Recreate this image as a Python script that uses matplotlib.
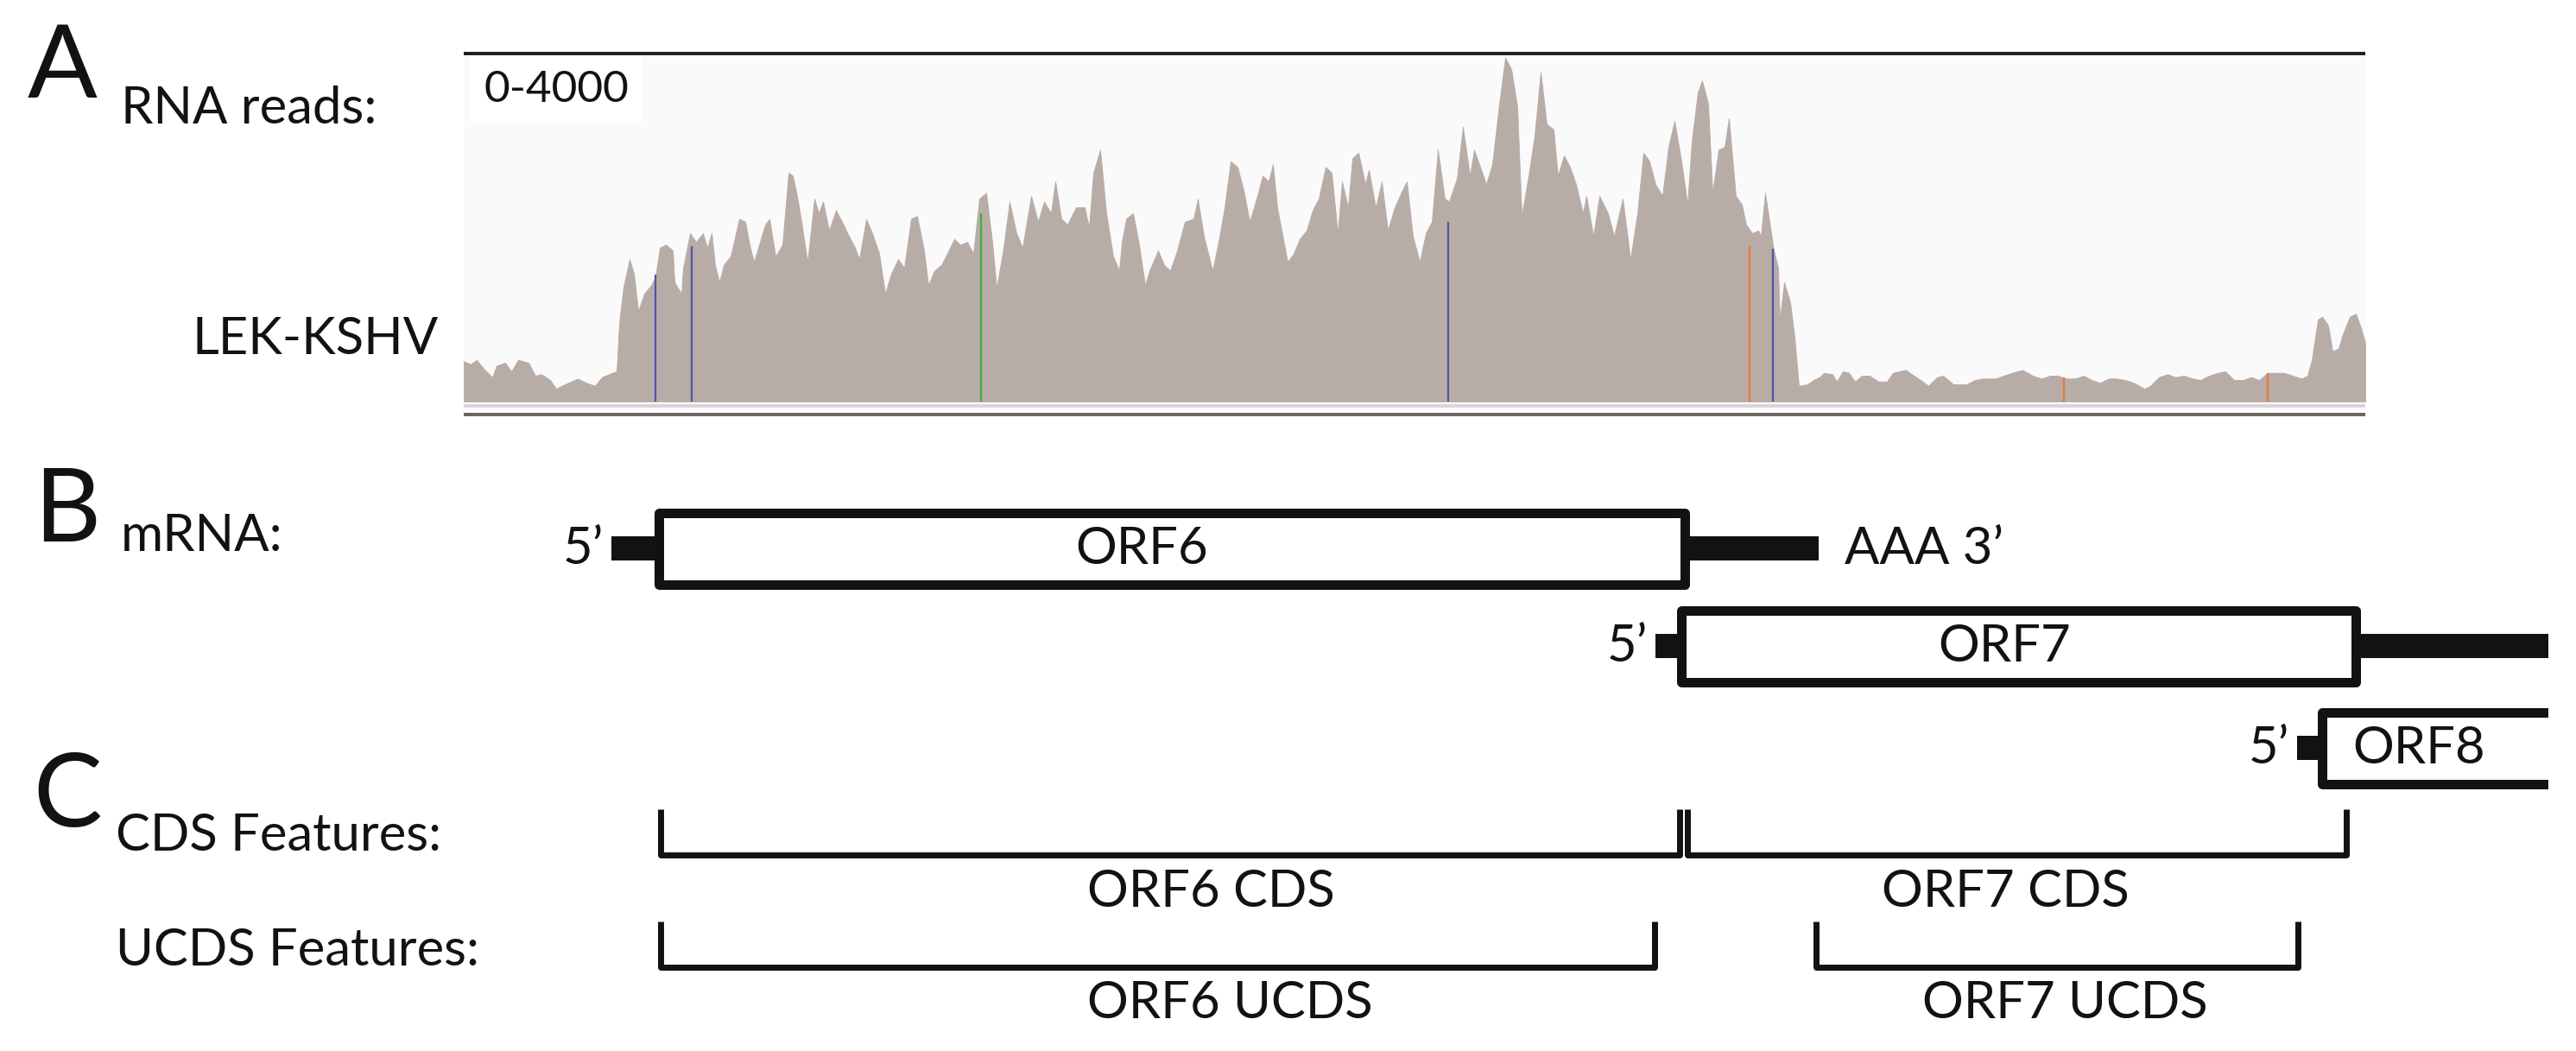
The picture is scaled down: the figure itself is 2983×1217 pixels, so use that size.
import matplotlib
matplotlib.use("Agg")
import matplotlib.pyplot as plt
from matplotlib.patches import Rectangle

W, H = 2983, 1217
plt.rcParams["font.family"] = ["Lato", "DejaVu Sans"]

# --- coverage track (position along region, read depth) ---
cov_pos = [
    0, 8, 15, 23, 33, 38, 48, 55, 63, 75, 83, 90, 100, 107, 117, 132, 142, 152, 160, 172,
    177, 180, 185, 192, 197, 202, 209, 217, 222, 227, 234, 242, 244, 252, 254, 262, 269, 277, 282, 287,
    291, 296, 301, 309, 319, 326, 331, 336, 341, 349, 354, 361, 369, 376, 381, 386, 391, 398, 406, 411,
    416, 423, 431, 438, 446, 453, 458, 466, 473, 481, 488, 495, 503, 510, 518, 525, 533, 538, 545, 553,
    560, 568, 575, 583, 590, 597, 605, 612, 617, 625, 632, 640, 647, 657, 665, 672, 680, 685, 692, 699,
    709, 719, 724, 729, 737, 744, 752, 759, 762, 767, 775, 782, 789, 794, 804, 811, 818, 825, 835, 845,
    850, 857, 867, 874, 881, 888, 896, 903, 910, 918, 925, 932, 937, 942, 947, 954, 961, 968, 976, 983,
    990, 998, 1005, 1012, 1017, 1024, 1029, 1036, 1044, 1048, 1056, 1063, 1070, 1078, 1087, 1092, 1099, 1107, 1114, 1121,
    1128, 1136, 1141, 1150, 1157, 1165, 1170, 1177, 1184, 1191, 1199, 1206, 1213, 1220, 1225, 1233, 1240, 1247, 1254, 1262,
    1267, 1274, 1281, 1288, 1296, 1300, 1308, 1315, 1325, 1332, 1342, 1351, 1359, 1366, 1373, 1380, 1388, 1395, 1402, 1410,
    1417, 1422, 1429, 1434, 1441, 1446, 1453, 1460, 1465, 1473, 1480, 1485, 1492, 1499, 1502, 1507, 1512, 1517, 1522, 1524,
    1529, 1536, 1541, 1546, 1556, 1563, 1570, 1575, 1585, 1590, 1597, 1604, 1611, 1619, 1628, 1638, 1648, 1655, 1662, 1670,
    1677, 1687, 1696, 1706, 1713, 1725, 1740, 1750, 1759, 1774, 1783, 1793, 1805, 1817, 1827, 1837, 1846, 1856, 1866, 1876,
    1885, 1895, 1905, 1914, 1924, 1934, 1946, 1953, 1963, 1973, 1982, 1992, 2002, 2011, 2021, 2031, 2040, 2050, 2060, 2070,
    2079, 2089, 2099, 2108, 2118, 2128, 2135, 2140, 2147, 2152, 2159, 2164, 2171, 2176, 2184, 2191, 2196, 2202,
]
cov_reads = [
    467, 433, 483, 383, 283, 417, 450, 350, 483, 450, 300, 317, 250, 150, 200, 267, 217, 183, 283, 333,
    350, 917, 1333, 1650, 1483, 1050, 1250, 1350, 1450, 1783, 1817, 1750, 1383, 1250, 1550, 1950, 1850, 1950, 1783, 1950,
    1583, 1383, 1583, 1683, 2117, 2083, 1817, 1617, 1783, 2050, 2117, 1683, 1817, 2650, 2617, 2383, 2083, 1617, 2350, 2183,
    2317, 1983, 2217, 2083, 1917, 1783, 1650, 2117, 1950, 1717, 1250, 1483, 1650, 1550, 2117, 2150, 1750, 1350, 1517, 1583,
    1717, 1883, 1817, 1850, 1717, 2350, 2417, 1850, 1317, 1783, 2317, 1950, 1783, 2383, 2083, 2317, 2183, 2550, 2117, 2050,
    2250, 2250, 2017, 2650, 2917, 2183, 1683, 1517, 1850, 2117, 2183, 1817, 1350, 1517, 1750, 1583, 1517, 1717, 2083, 2117,
    2350, 1917, 1517, 1850, 2250, 2783, 2717, 2450, 2083, 2350, 2617, 2550, 2750, 2250, 1983, 1617, 1717, 1883, 1983, 2217,
    2350, 2717, 2650, 1950, 2550, 2250, 2817, 2883, 2517, 2683, 2250, 2550, 1983, 2250, 2450, 2550, 1917, 1617, 1950, 2083,
    2917, 2350, 2317, 2583, 3183, 2617, 2917, 2717, 2517, 2750, 3450, 3983, 3850, 3417, 2150, 2617, 3083, 3817, 3217, 3150,
    2617, 2850, 2717, 2517, 2183, 2383, 1917, 2383, 2183, 1917, 2350, 1650, 2183, 2883, 2783, 2517, 2383, 2950, 3250, 2783,
    2283, 3017, 3583, 3717, 3450, 2417, 2917, 2950, 3283, 2383, 2283, 2050, 1950, 1983, 1917, 2417, 2083, 1750, 1550, 950,
    1383, 1150, 750, 183, 200, 250, 283, 333, 317, 233, 350, 333, 233, 300, 300, 233, 233, 333, 350, 367,
    317, 250, 183, 283, 300, 200, 200, 250, 267, 267, 300, 333, 367, 300, 267, 300, 300, 267, 267, 300,
    250, 217, 267, 267, 250, 217, 150, 183, 283, 317, 283, 300, 267, 250, 300, 333, 350, 250, 250, 283,
    250, 333, 333, 333, 300, 267, 300, 483, 950, 983, 883, 583, 617, 783, 983, 1017, 883, 683,
]

# mismatch positions
mm_pos = [222, 264, 599, 1140, 1489, 1516, 1853, 2089]
mm_reads = [1467, 1800, 2183, 2083, 1800, 1767, 283, 333]
mm_base = ["C", "C", "A", "C", "G", "C", "G", "G"]
base_colors = {"A": "#3fb13f", "C": "#5252b0", "G": "#e47b35"}

# --- transcripts (same position units) ---
orf_names = ["ORF6", "ORF7", "ORF8"]
orf_start = [226, 1410, 2152]
orf_end = [1414, 2191, 2600]
utr5_start = [171, 1380, 2123]
utr3_end = [1569, 2600, 2600]
orf_label_x = [785, 1784, 2264]
row_y = [635, 748, 866]

# --- CDS / UCDS features ---
cds_names = ["ORF6 CDS", "ORF7 CDS"]
cds_start = [228, 1417]
cds_end = [1408, 2180]
cds_label_x = [865, 1785]
ucds_names = ["ORF6 UCDS", "ORF7 UCDS"]
ucds_start = [228, 1566]
ucds_end = [1379, 2124]
ucds_label_x = [887, 1854]

INK = "#141210"
FS = 43

fig = plt.figure(figsize=(W / 100, H / 100), dpi=100)
fig.patch.set_facecolor("white")

# coverage axes: 10 reads per pixel
ax_cov = fig.add_axes([537 / W, (H - 483) / H, 2202 / W, 423 / H])
ax_cov.set_xlim(0, 2202)
ax_cov.set_ylim(-180, 4050)
ax_cov.set_facecolor("#fbfafa")
ax_cov.axis("off")
ax_cov.axhspan(0, 4050, color="#fbfafa", lw=0, zorder=0)
ax_cov.fill_between(cov_pos, 0, cov_reads, color="#b8aca6", lw=0.6, edgecolor="#b8aca6", zorder=2)
ax_cov.vlines(mm_pos, 0, mm_reads, colors=[base_colors[b] for b in mm_base], lw=1.6, zorder=3)
ax_cov.axhline(4030, color="#1f1b19", lw=2.8, zorder=4)
ax_cov.axhspan(-70, -30, color="#dcd3dc", lw=0, zorder=1)
ax_cov.axhspan(-170, -130, color="#6e6661", lw=0, zorder=1)
ax_cov.text(23, 3470, "0-4000", fontsize=37, color=INK, va="baseline", ha="left",
            bbox=dict(facecolor="white", edgecolor="none", pad=12), zorder=5)

# overlay axes in pixel-aligned units for diagrams and labels
ax = fig.add_axes([0, 0, 2951 / W, 1])
ax.set_xlim(-537, 2414)
ax.set_ylim(H, 0)
ax.axis("off")
ax.patch.set_alpha(0)

def label(x, y, s, size=FS, ha="left"):
    ax.text(x - 537, y, s, fontsize=size, color=INK, ha=ha, va="baseline")

label(32, 113, "A", size=86)
label(140, 143, "RNA reads:")
label(223, 410, "LEK-KSHV")
label(39, 627, "B", size=86)
label(140, 638, "mRNA:")
label(38, 957, "C", size=86)
label(134, 985, "CDS Features:")
label(134, 1118, "UCDS Features:")

box_h = 83
stub_h = 28
box_lw = 11 * 0.72
for name, s, e, u5, u3, lx, yc in zip(orf_names, orf_start, orf_end, utr5_start, utr3_end,
                                       orf_label_x, row_y):
    ax.add_patch(Rectangle((u5, yc - stub_h / 2), s - u5, stub_h, facecolor=INK, lw=0, zorder=2))
    if u3 > e:
        ax.add_patch(Rectangle((e, yc - stub_h / 2), u3 - e, stub_h, facecolor=INK, lw=0, zorder=2))
    ax.add_patch(Rectangle((s, yc - box_h / 2), e - s, box_h, facecolor="white", edgecolor=INK,
                           lw=box_lw, joinstyle="round", zorder=3))
    ax.text(lx, yc + 18, name, fontsize=FS, color=INK, ha="center", va="baseline", zorder=4)
    ax.text(u5 - 9, yc + 18, "5\u2019", fontsize=FS, color=INK, ha="right", va="baseline")

ax.text(utr3_end[0] + 30, row_y[0] + 18, "AAA 3\u2019", fontsize=FS, color=INK, ha="left", va="baseline")

def bracket(s, e, top, bot):
    ax.plot([s, s, e, e], [top, bot, bot, top], color=INK, lw=5, solid_joinstyle="round",
            solid_capstyle="butt")

for name, s, e, lx in zip(cds_names, cds_start, cds_end, cds_label_x):
    bracket(s, e, 937, 990)
    ax.text(lx, 1050, name, fontsize=FS, color=INK, ha="center", va="baseline")

for name, s, e, lx in zip(ucds_names, ucds_start, ucds_end, ucds_label_x):
    bracket(s, e, 1067, 1120)
    ax.text(lx, 1179, name, fontsize=FS, color=INK, ha="center", va="baseline")

fig.savefig("out.png", dpi=100, facecolor="white")
